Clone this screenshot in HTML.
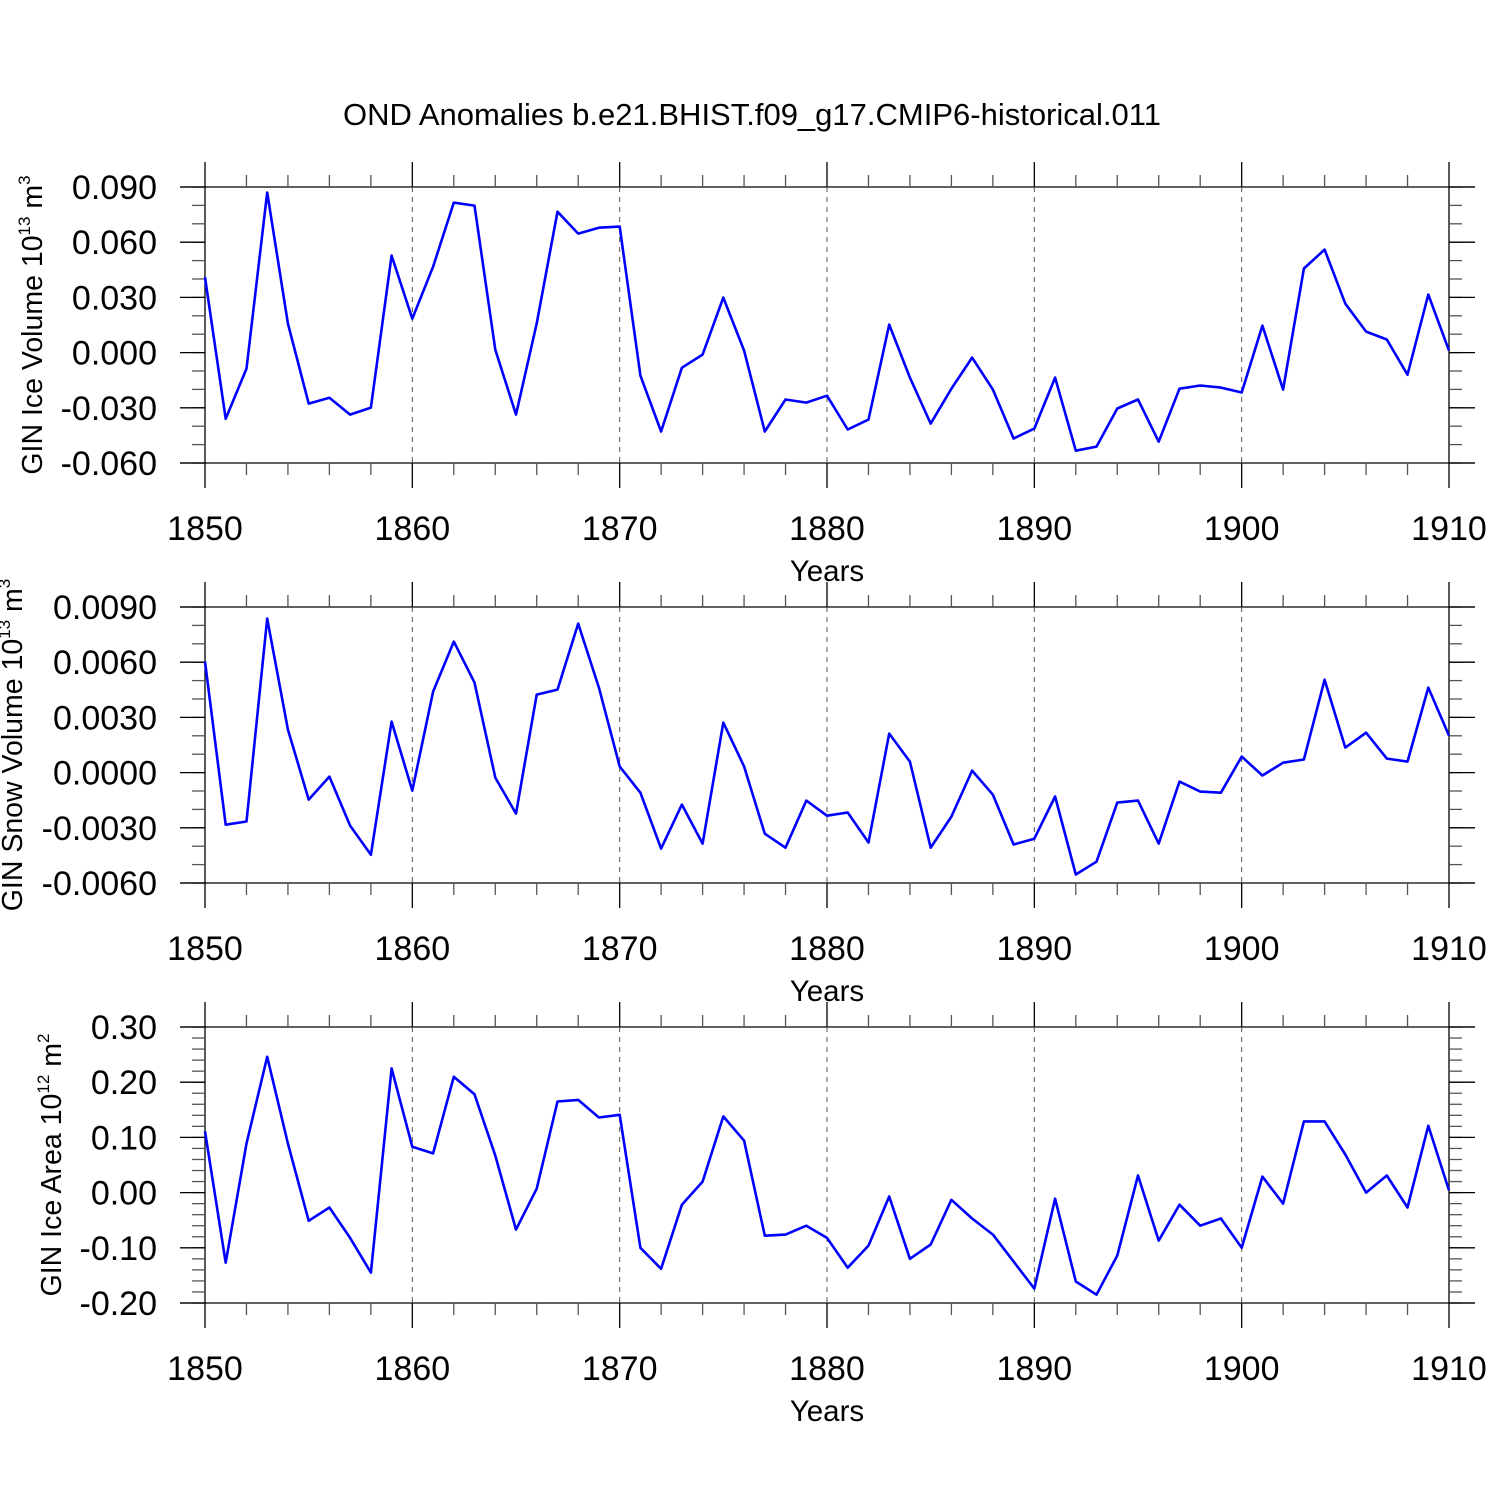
<!DOCTYPE html>
<html><head><meta charset="utf-8"><style>
html,body{margin:0;padding:0;background:#fff;}
svg{display:block;font-family:"Liberation Sans",sans-serif;}
</style></head><body>
<svg id="chart" width="1500" height="1500" viewBox="0 0 1500 1500" xmlns="http://www.w3.org/2000/svg">
<text x="752" y="125" font-size="31" text-anchor="middle">OND Anomalies b.e21.BHIST.f09_g17.CMIP6-historical.011</text>
</svg>
<script>
const years = [];
for (let y = 1850; y <= 1910; y++) years.push(y);
const iceVolume = [0.041,-0.036,-0.0087,0.087,0.0158,-0.0277,-0.0245,-0.0337,-0.0299,0.0527,0.0185,0.0467,0.0815,0.0799,0.0016,-0.0337,0.0158,0.0766,0.0647,0.0679,0.0685,-0.0125,-0.0429,-0.0082,-0.0011,0.0299,0.0011,-0.0429,-0.0255,-0.0272,-0.0234,-0.0418,-0.0364,0.0152,-0.0136,-0.0386,-0.0196,-0.0027,-0.0201,-0.0467,-0.0413,-0.0136,-0.0533,-0.0511,-0.0304,-0.0255,-0.0484,-0.0196,-0.0179,-0.019,-0.0217,0.0147,-0.0201,0.0457,0.056,0.0266,0.0114,0.0071,-0.012,0.0315,0.0011];
const snowVolume = [0.00603,-0.00283,-0.00266,0.00837,0.00234,-0.00147,-0.00022,-0.00288,-0.00446,0.00277,-0.00098,0.0044,0.00712,0.00489,-0.00027,-0.00223,0.00424,0.00451,0.0081,0.00462,0.00033,-0.00109,-0.00413,-0.00174,-0.00386,0.00272,0.00033,-0.00332,-0.00408,-0.00152,-0.00234,-0.00217,-0.0038,0.00212,0.0006,-0.00408,-0.00239,0.00011,-0.0012,-0.00391,-0.00359,-0.0013,-0.00554,-0.00484,-0.00163,-0.00152,-0.00386,-0.00049,-0.00103,-0.00109,0.00087,-0.00016,0.00054,0.00071,0.00505,0.00136,0.00217,0.00076,0.0006,0.00462,0.00201];
const iceArea = [0.111,-0.127,0.089,0.246,0.089,-0.051,-0.027,-0.082,-0.145,0.225,0.083,0.071,0.210,0.178,0.067,-0.067,0.007,0.165,0.168,0.136,0.141,-0.100,-0.138,-0.022,0.020,0.138,0.094,-0.078,-0.076,-0.060,-0.082,-0.136,-0.096,-0.007,-0.120,-0.094,-0.013,-0.047,-0.076,-0.125,-0.174,-0.011,-0.161,-0.185,-0.114,0.031,-0.087,-0.022,-0.060,-0.047,-0.100,0.029,-0.020,0.129,0.129,0.069,0,0.031,-0.027,0.121,0.004];
const xTickLabels = ["1850","1860","1870","1880","1890","1900","1910"];
const yTicks1 = ["0.090","0.060","0.030","0.000","-0.030","-0.060"];
const yTicks2 = ["0.0090","0.0060","0.0030","0.0000","-0.0030","-0.0060"];
const yTicks3 = ["0.30","0.20","0.10","0.00","-0.10","-0.20"];

const NS = "http://www.w3.org/2000/svg";
const svg = document.getElementById("chart");
const X0 = 205, X1 = 1449;
function xs(yr){ return X0 + (yr - 1850) / 60 * (X1 - X0); }
function mk(tag, attrs, parent){ const e = document.createElementNS(NS, tag); for (const k in attrs) e.setAttribute(k, attrs[k]); (parent||svg).appendChild(e); return e; }
function line(g, x1,y1,x2,y2, extra){ const a = {x1,y1,x2,y2,stroke:"#000","stroke-width":1.3}; Object.assign(a, extra||{}); return mk("line", a, g); }

function panel(name, top, vmax, vmin, ticks, minorStep, data, labelParts, labelX){
  const bot = top + 276;
  const ys = v => top + (vmax - v) / (vmax - vmin) * 276;
  const g = mk("g", {});
  
  
  line(g, 180, top, 1475, top);
  line(g, 180, bot, 1475, bot);
  line(g, X0, top-25, X0, bot+25);
  line(g, X1, top-25, X1, bot+25);
  for (let yr = 1850; yr <= 1910; yr += 2) {
    const x = xs(yr);
    if ((yr - 1850) % 10 === 0) {
      if (yr !== 1850 && yr !== 1910) {
        line(g, x, top-25, x, top);
        line(g, x, bot, x, bot+25);
        line(g, x, top, x, bot, {"stroke-dasharray":"5,5","stroke-width":1,stroke:"#555"});
      }
    } else {
      line(g, x, top-12, x, top, {stroke:"#555"});
      line(g, x, bot, x, bot+12, {stroke:"#555"});
    }
  }
  const nMin = Math.round((vmax - vmin) / minorStep);
  for (let i = 0; i <= nMin; i++) {
    const y = top + i * 276 / nMin;
    line(g, 192, y, X0, y, {stroke:"#555"});
    line(g, X1, y, 1462, y, {stroke:"#555"});
  }
  ticks.forEach((t, i) => {
    const y = ys(parseFloat(t));
    line(g, 180, y, X0, y);
    line(g, X1, y, 1475, y);
    const tx = mk("text", {x:157, y:y+12, "font-size":34, "text-anchor":"end"}, g);
    
    
    tx.textContent = t;
  });
  xTickLabels.forEach(t => {
    const tx = mk("text", {x:xs(+t), y:bot+77, "font-size":34, "text-anchor":"middle"}, g);
    
    
    tx.textContent = t;
  });
  const xt = mk("text", {x:827, y:bot+118, "font-size":29.5, "text-anchor":"middle"}, g);
  
  
  xt.textContent = "Years";
  const yt = mk("text", {x:0, y:0, "font-size":28.5, "text-anchor":"middle", transform:`translate(${labelX},${top+138}) rotate(-90)`}, g);
  
  
  const t1 = mk("tspan", {}, yt); t1.textContent = labelParts[0];
  const t2 = mk("tspan", {dy:-12, "font-size":17}, yt); t2.textContent = labelParts[1];
  const t3 = mk("tspan", {dy:12}, yt); t3.textContent = " m";
  const t4 = mk("tspan", {dy:-12, "font-size":17}, yt); t4.textContent = labelParts[2];
  const pts = data.map((v, i) => xs(years[i]).toFixed(1) + "," + ys(v).toFixed(1)).join(" ");
  const pl = mk("polyline", {points:pts, fill:"none", stroke:"#0000ff", "stroke-width":2.6, "stroke-linejoin":"round"}, g);
  
  
}
panel("ice-volume", 187, 0.09, -0.06, yTicks1, 0.01, iceVolume, ["GIN Ice Volume 10","13","3"], 42);
panel("snow-volume", 607, 0.009, -0.006, yTicks2, 0.001, snowVolume, ["GIN Snow Volume 10","13","3"], 22);
panel("ice-area", 1027, 0.30, -0.20, yTicks3, 0.02, iceArea, ["GIN Ice Area 10","12","2"], 61);
</script>
</body></html>
